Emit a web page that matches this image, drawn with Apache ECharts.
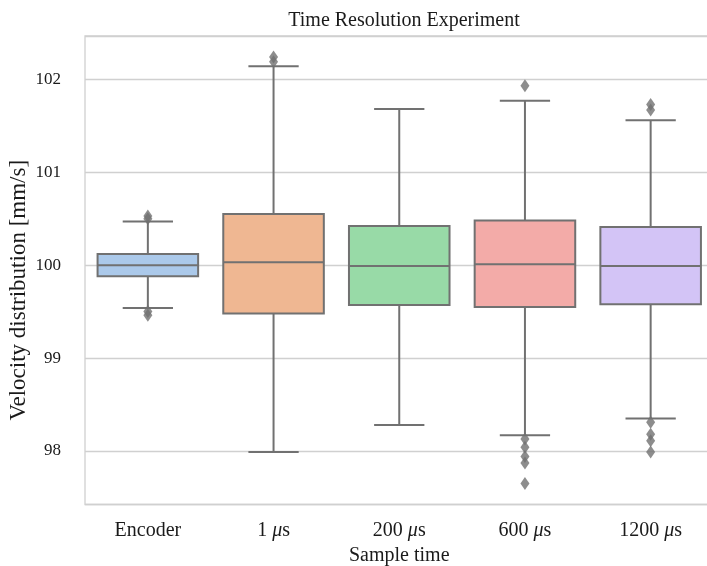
<!DOCTYPE html>
<html><head><meta charset="utf-8">
<script src="https://cdn.jsdelivr.net/npm/echarts@6/dist/echarts.min.js"></script>
<style>html,body{margin:0;padding:0;background:#fff}#c{width:707px;height:566px}</style>
</head><body><div id="c"></div>
<script>
// ---- data ----
const categories = ['Encoder', '1 μs', '200 μs', '600 μs', '1200 μs'];
const whiskerLow  = [99.54, 97.99, 98.28, 98.17, 98.35];
const q1          = [99.88, 99.48, 99.57, 99.55, 99.58];
const median      = [100.00, 100.03, 99.99, 100.01, 99.99];
const q3          = [100.12, 100.55, 100.42, 100.48, 100.41];
const whiskerHigh = [100.47, 102.14, 101.68, 101.77, 101.56];
const outliersEncoder = [100.50, 100.53, 99.50, 99.46];
const outliers1us     = [102.19, 102.24];
const outliers200us   = [];
const outliers600us   = [101.93, 98.13, 98.04, 97.94, 97.87, 97.65];
const outliers1200us  = [101.67, 101.73, 98.31, 98.18, 98.11, 97.99];
const outliers = [outliersEncoder, outliers1us, outliers200us, outliers600us, outliers1200us];
const yTickLabels = ['98', '99', '100', '101', '102'];

// ---- styling ----
const FONT = '"Liberation Serif", "Times New Roman", serif';
const LINE = '#717171';
const GRIDC = '#d0d0d0';
const boxColors = ['#abc9ea', '#efb792', '#98daa7', '#f3aba8', '#d3c4f6'];

const boxData = categories.map((c, i) => [i, whiskerLow[i], q1[i], median[i], q3[i], whiskerHigh[i]]);
const outlierData = [];
outliers.forEach((arr, i) => arr.forEach(v => outlierData.push([i, v])));

function renderBox(params, api) {
  const i = api.value(0);
  const band = api.size([1, 0])[0];
  const bw = band * 0.8, cw = band * 0.4;
  const x = api.coord([i, api.value(3)])[0];
  const yLow = api.coord([i, api.value(1)])[1];
  const yQ1 = api.coord([i, api.value(2)])[1];
  const yMed = api.coord([i, api.value(3)])[1];
  const yQ3 = api.coord([i, api.value(4)])[1];
  const yHigh = api.coord([i, api.value(5)])[1];
  const ls = { stroke: LINE, lineWidth: 2, fill: null };
  return {
    type: 'group',
    children: [
      { type: 'line', shape: { x1: x, y1: yQ3, x2: x, y2: yHigh }, style: ls },
      { type: 'line', shape: { x1: x, y1: yQ1, x2: x, y2: yLow }, style: ls },
      { type: 'line', shape: { x1: x - cw / 2, y1: yHigh, x2: x + cw / 2, y2: yHigh }, style: ls },
      { type: 'line', shape: { x1: x - cw / 2, y1: yLow, x2: x + cw / 2, y2: yLow }, style: ls },
      { type: 'rect', shape: { x: x - bw / 2, y: yQ3, width: bw, height: yQ1 - yQ3 },
        style: { fill: boxColors[params.dataIndex], stroke: LINE, lineWidth: 2 } },
      { type: 'line', shape: { x1: x - bw / 2, y1: yMed, x2: x + bw / 2, y2: yMed }, style: ls }
    ]
  };
}

const chart = echarts.init(document.getElementById('c'), null, { renderer: 'canvas' });
chart.setOption({
  backgroundColor: '#ffffff',
  animation: false,
  title: {
    text: 'Time Resolution Experiment',
    left: 399, top: 6, textAlign: 'center',
    textStyle: { fontFamily: FONT, fontSize: 20, fontWeight: 'normal', color: '#1a1a1a' }
  },
  grid: {
    left: 85, top: 36, right: -6.5, bottom: 61.5,
    outerBoundsMode: 'none', containLabel: false,
    show: true, borderColor: GRIDC, borderWidth: 1.3, backgroundColor: 'transparent'
  },
  xAxis: {
    type: 'category',
    data: categories,
    boundaryGap: true,
    axisLine: { show: false },
    axisTick: { show: false },
    splitLine: { show: false },
    axisLabel: {
      interval: 0, hideOverlap: false,
      margin: 16, fontFamily: FONT, fontSize: 20, color: '#1a1a1a',
      formatter: v => v.replace('μ', '{it|μ}'),
      rich: { it: { fontFamily: FONT, fontSize: 20, fontStyle: 'italic', color: '#1a1a1a' } }
    },
    name: 'Sample time', nameLocation: 'middle', nameGap: 41, nameMoveOverlap: false,
    nameTextStyle: { fontFamily: FONT, fontSize: 20, color: '#1a1a1a' }
  },
  yAxis: {
    type: 'value',
    min: 97.424, max: 102.466,
    minInterval: 1, maxInterval: 1,
    axisLine: { show: false },
    axisTick: { show: false },
    splitLine: { show: true, lineStyle: { color: GRIDC, width: 1.3 } },
    axisLabel: {
      margin: 24, fontFamily: FONT, fontSize: 17, color: '#1a1a1a',
      showMinLabel: false, showMaxLabel: false,
      formatter: v => (yTickLabels.indexOf(String(v)) >= 0 ? String(v) : '')
    },
    name: 'Velocity distribution [mm/s]', nameLocation: 'middle', nameGap: 55, nameRotate: 90,
    nameMoveOverlap: false,
    nameTextStyle: { fontFamily: FONT, fontSize: 23, color: '#1a1a1a', padding: [0, 40, 0, 0] }
  },
  series: [
    {
      type: 'custom',
      renderItem: renderBox,
      encode: { x: 0, y: [1, 2, 3, 4, 5] },
      data: boxData,
      z: 2
    },
    {
      type: 'scatter',
      data: outlierData,
      symbol: 'diamond',
      symbolSize: [9, 13],
      itemStyle: { color: LINE },
      z: 3
    }
  ]
});
</script>
</body></html>
